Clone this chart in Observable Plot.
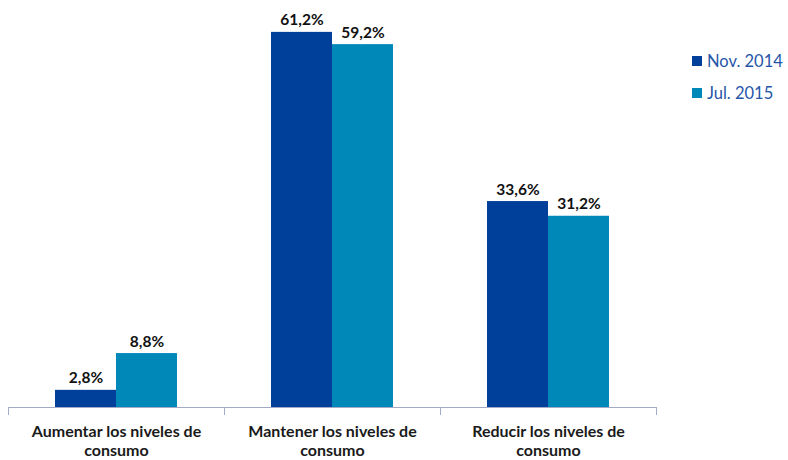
<!DOCTYPE html>
<html>
<head>
<meta charset="utf-8">
<script src="https://cdn.jsdelivr.net/npm/d3@7"></script>
<script src="https://cdn.jsdelivr.net/npm/@observablehq/plot@0.6"></script>
<style>
  body { margin: 0; background: #fff; font-family: Lato, "Open Sans", sans-serif; }
  #wrap { position: relative; width: 788px; height: 460px; overflow: hidden; }
  .legend { position: absolute; left: 692px; font-size: 16.5px; color: #2556a8; font-family: Lato, sans-serif; }
  .legend div { display: flex; align-items: center; height: 20px; margin-bottom: 12px; }
  .legend span.sw { display: inline-block; width: 10px; height: 10px; margin-right: 5px; }
</style>
</head>
<body>
<div id="wrap"></div>
<script>
const categories = ["Aumentar los niveles de consumo", "Mantener los niveles de consumo", "Reducir los niveles de consumo"];
const categoryLabels = ["Aumentar los niveles de\nconsumo", "Mantener los niveles de\nconsumo", "Reducir los niveles de\nconsumo"];
const series = ["Nov. 2014", "Jul. 2015"];
const nov2014 = [2.8, 61.2, 33.6];
const jul2015 = [8.8, 59.2, 31.2];
const colors = ["#00409a", "#0088b9"];

const data = [];
categories.forEach((c, i) => {
  data.push({category: c, series: series[0], value: nov2014[i]});
  data.push({category: c, series: series[1], value: jul2015[i]});
});
const fmt = v => v.toFixed(1).replace(".", ",") + "%";
const labelOf = Object.fromEntries(categories.map((c, i) => [c, categoryLabels[i]]));
const axisColor = "#a3aac8";

const chart = Plot.plot({
  width: 788,
  height: 460,
  marginTop: 0,
  marginLeft: 7,
  marginRight: 132,
  marginBottom: 53,
  style: {fontFamily: "Lato, sans-serif", background: "transparent"},
  fx: {domain: categories, padding: 0, label: null, axis: null},
  x: {domain: series, paddingInner: 0, paddingOuter: 0.77, axis: null},
  y: {domain: [0, 66.4], axis: null},
  color: {domain: series, range: colors},
  marks: [
    Plot.barY(data, {fx: "category", x: "series", y: "value", fill: "series"}),
    Plot.text(data, {fx: "category", x: "series", y: "value", text: d => fmt(d.value), dy: -7, lineAnchor: "bottom", fontWeight: "bold", fontSize: 15.5, fill: "#111"}),
    Plot.ruleY([0], {stroke: axisColor, strokeWidth: 1}),
    Plot.frame({anchor: "left", insetTop: 407, insetBottom: -7, stroke: axisColor}),
    Plot.frame({anchor: "right", insetTop: 407, insetBottom: -7, stroke: axisColor}),
    Plot.axisFx({anchor: "bottom", tickSize: 0, tickPadding: 16, tickFormat: c => labelOf[c], fontSize: 16, fontWeight: "bold", lineHeight: 1.2, fill: "#1a1a1a", label: null})
  ]
});
const wrap = document.getElementById("wrap");
wrap.appendChild(chart);

const legend = document.createElement("div");
legend.className = "legend";
legend.style.top = "51px";
series.forEach((s, i) => {
  const row = document.createElement("div");
  const sw = document.createElement("span");
  sw.className = "sw";
  sw.style.background = colors[i];
  row.appendChild(sw);
  row.appendChild(document.createTextNode(s));
  legend.appendChild(row);
});
wrap.appendChild(legend);
</script>
</body>
</html>
